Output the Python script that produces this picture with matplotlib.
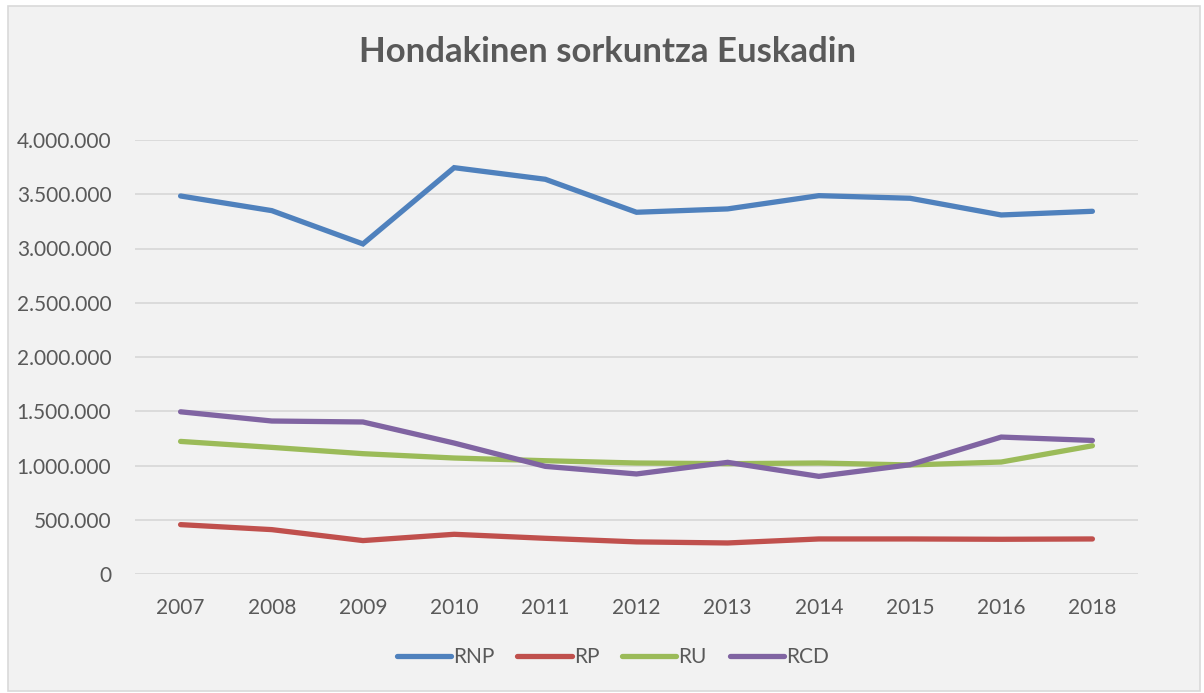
import matplotlib.pyplot as plt
from matplotlib.patches import Rectangle
from matplotlib.ticker import FuncFormatter

plt.rcParams['font.family'] = ['Lato', 'DejaVu Sans']

years = ['2007', '2008', '2009', '2010', '2011', '2012', '2013', '2014', '2015', '2016', '2018']
rnp = [3484000, 3349000, 3042000, 3745000, 3638000, 3334000, 3365000, 3487000, 3463000, 3309000, 3343000]
rp = [455000, 409000, 308000, 366000, 329000, 296000, 286000, 323000, 323000, 320000, 323000]
ru = [1222000, 1167000, 1109000, 1069000, 1044000, 1023000, 1017000, 1023000, 1005000, 1032000, 1182000]
rcd = [1495000, 1410000, 1401000, 1207000, 992000, 922000, 1029000, 900000, 1007000, 1262000, 1231000]

series = [('RNP', rnp, '#4F81BD'), ('RP', rp, '#C0504D'),
          ('RU', ru, '#9BBB59'), ('RCD', rcd, '#8064A2')]

txt = '#595959'
bg = '#F2F2F2'

fig = plt.figure(figsize=(12.04, 6.93), dpi=100)
fig.patch.set_facecolor('white')
# chart area frame
fig.patches.append(Rectangle((8/1204, 2/693), 1192/1204, 685/693, transform=fig.transFigure,
                             facecolor=bg, edgecolor='#D9D9D9', linewidth=1.2, zorder=-10))

ax = fig.add_axes([135/1204, 1 - 574/693, (1138 - 135)/1204, (574 - 140)/693])
ax.set_facecolor(bg)
x = list(range(len(years)))
for name, vals, col in series:
    ax.plot(x, vals, color=col, lw=3.8, label=name, solid_capstyle='round', solid_joinstyle='miter')

ax.set_ylim(0, 4000000)
ax.set_xlim(-0.5, len(years) - 0.5)
ax.set_yticks(range(0, 4000001, 500000))
ax.yaxis.set_major_formatter(FuncFormatter(lambda v, p: f'{int(v):,}'.replace(',', '.')))
ax.set_xticks(x)
ax.set_xticklabels(years)
ax.grid(axis='y', color='#D9D9D9', lw=1.3)
ax.set_axisbelow(True)
for s in ax.spines.values():
    s.set_visible(False)
ax.tick_params(length=0, labelsize=15, labelcolor=txt)
ax.tick_params(axis='y', pad=17)
ax.tick_params(axis='x', pad=17)

fig.text(0.505, 1 - 52/693, 'Hondakinen sorkuntza Euskadin', ha='center', va='center',
         fontsize=25, fontweight='bold', color=txt)

leg = fig.legend(loc='center', bbox_to_anchor=(0.509, 1 - 657/693), ncol=4, frameon=False,
                 fontsize=15, handlelength=2.6, columnspacing=1.1, handletextpad=0.1)
for t in leg.get_texts():
    t.set_color(txt)

fig.savefig('out.png', dpi=100, facecolor=fig.get_facecolor())
